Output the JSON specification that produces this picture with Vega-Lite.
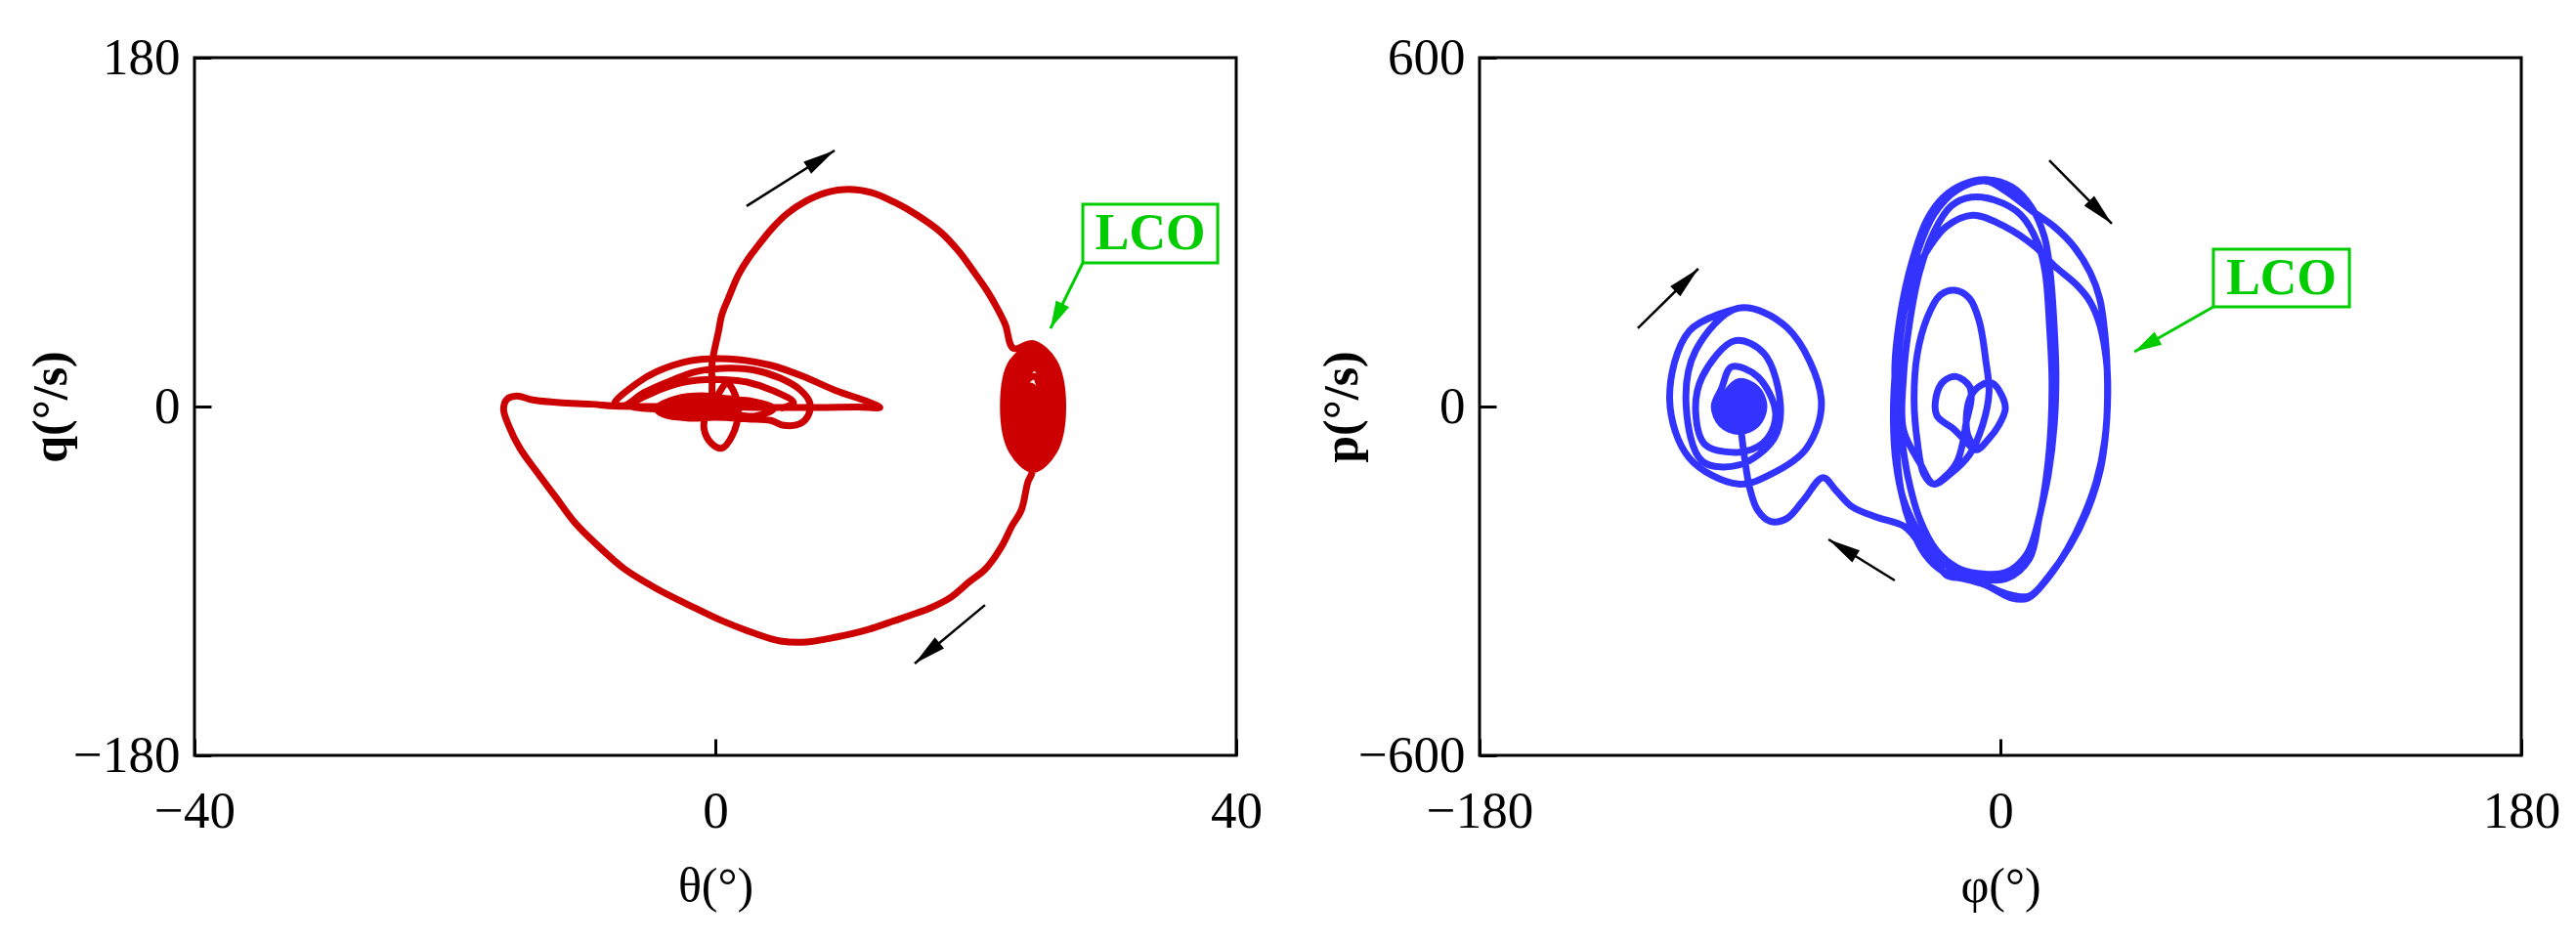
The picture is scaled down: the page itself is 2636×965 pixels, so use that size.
{
"$schema": "https://vega.github.io/schema/vega-lite/v6.json",
"background": "white",
"padding": {"left": 25, "top": 31, "right": 0, "bottom": 0},
"bounds": "flush",
"spacing": 249,
"config": {
  "view": {"stroke": "black", "strokeWidth": 3},
  "axis": {"grid": false, "domain": false, "ticks": true, "tickSize": -17, "tickWidth": 3, "tickColor": "black",
    "labelFont": "Liberation Serif", "labelFontSize": 53, "labelColor": "black",
    "titleFont": "Liberation Serif", "titleFontSize": 50, "titleColor": "black",
    "labelOverlap": false, "labelFlush": false}
},
"datasets": {
"red": [
{"i":1,"x":-0.6,"y":0.3},{"i":2,"x":-0.87,"y":-11.4},{"i":3,"x":-0.3,"y":-19},{"i":4,"x":0.5,"y":-21.5},{"i":5,"x":1.3,"y":-15},{"i":6,"x":1.75,"y":-3},{"i":7,"x":1.4,"y":8},{"i":8,"x":0.9,"y":12},{"i":9,"x":0.2,"y":6},{"i":10,"x":-0.2,"y":0},
{"i":11,"x":-0.25,"y":12},{"i":12,"x":-0.25,"y":22.2},{"i":13,"x":0.25,"y":39},{"i":14,"x":0.5,"y":47.4},{"i":15,"x":1.0,"y":55.8},{"i":16,"x":1.75,"y":67.6},{"i":17,"x":2.5,"y":76},{"i":18,"x":3.25,"y":82.7},{"i":19,"x":4.25,"y":91.1},{"i":20,"x":5.51,"y":99.5},
{"i":21,"x":7.01,"y":106.2},{"i":22,"x":8.51,"y":110.4},{"i":23,"x":10.26,"y":112.1},{"i":24,"x":12.01,"y":110.4},{"i":25,"x":13.76,"y":105.4},{"i":26,"x":15.51,"y":98.7},{"i":27,"x":17.3,"y":90},{"i":28,"x":18.7,"y":80},{"i":29,"x":19.8,"y":70},{"i":30,"x":20.76,"y":60.8},
{"i":31,"x":21.51,"y":52.4},{"i":32,"x":22.26,"y":42.4},{"i":33,"x":22.89,"y":30},
{"i":34,"x":24.4,"y":32.5},{"i":35,"x":26.01,"y":23},{"i":36,"x":26.68,"y":0},{"i":37,"x":26.01,"y":-23},{"i":38,"x":24.4,"y":-32.5},{"i":39,"x":22.79,"y":-23},{"i":40,"x":22.12,"y":0},{"i":41,"x":22.79,"y":23},
{"i":42,"x":24.4,"y":30},{"i":43,"x":25.78,"y":21.2},{"i":44,"x":26.35,"y":0},{"i":45,"x":25.78,"y":-21.2},{"i":46,"x":24.4,"y":-30},{"i":47,"x":23.02,"y":-21.2},{"i":48,"x":22.45,"y":0},{"i":49,"x":23.02,"y":21.2},
{"i":50,"x":24.4,"y":27.5},{"i":51,"x":25.57,"y":19.4},{"i":52,"x":26.05,"y":0},{"i":53,"x":25.57,"y":-19.4},{"i":54,"x":24.4,"y":-27.5},{"i":55,"x":23.23,"y":-19.4},{"i":56,"x":22.75,"y":0},{"i":57,"x":23.23,"y":19.4},
{"i":58,"x":24.45,"y":25},{"i":59,"x":25.4,"y":17.7},{"i":60,"x":25.8,"y":0},{"i":61,"x":25.4,"y":-17.7},{"i":62,"x":24.45,"y":-25},{"i":63,"x":23.5,"y":-17.7},{"i":64,"x":23.1,"y":0},{"i":65,"x":23.5,"y":17.7},
{"i":66,"x":24.5,"y":22},{"i":67,"x":25.24,"y":15.3},{"i":68,"x":25.55,"y":-1},{"i":69,"x":25.24,"y":-17.3},{"i":70,"x":24.5,"y":-24},{"i":71,"x":23.76,"y":-17.3},{"i":72,"x":23.45,"y":-1},{"i":73,"x":23.76,"y":15.3},
{"i":74,"x":24.55,"y":20},{"i":75,"x":25.12,"y":13.8},{"i":76,"x":25.35,"y":-1},{"i":77,"x":25.12,"y":-15.8},{"i":78,"x":24.55,"y":-22},{"i":79,"x":23.98,"y":-15.8},{"i":80,"x":23.75,"y":-1},{"i":81,"x":23.98,"y":13.8},
{"i":82,"x":24.55,"y":15.5},{"i":83,"x":24.9,"y":10.5},{"i":84,"x":25.05,"y":-1.5},{"i":85,"x":24.9,"y":-13.5},{"i":86,"x":24.55,"y":-18.5},{"i":87,"x":24.2,"y":-13.5},{"i":88,"x":24.05,"y":-1.5},{"i":89,"x":24.2,"y":10.5},
{"i":90,"x":24.55,"y":8.5},{"i":91,"x":24.7,"y":5.5},{"i":92,"x":24.75,"y":-1.5},{"i":93,"x":24.7,"y":-8.5},{"i":94,"x":24.55,"y":-11.5},{"i":95,"x":24.4,"y":-8.5},{"i":96,"x":24.35,"y":-1.5},{"i":97,"x":24.4,"y":5.5},{"i":98,"x":24.55,"y":8.5},{"i":99,"x":24.7,"y":0},{"i":100,"x":24.6,"y":-12},{"i":101,"x":24.55,"y":-22},
{"i":102,"x":24.3,"y":-34.5},{"i":103,"x":24.0,"y":-39},{"i":104,"x":23.5,"y":-53.4},{"i":105,"x":22.76,"y":-61.8},{"i":106,"x":22.01,"y":-71.9},{"i":107,"x":20.76,"y":-83.7},{"i":108,"x":19.51,"y":-90.4},{"i":109,"x":18.01,"y":-98.8},{"i":110,"x":16.5,"y":-104},{"i":111,"x":15.5,"y":-106.5},
{"i":112,"x":13.76,"y":-110.5},{"i":113,"x":11.76,"y":-115},{"i":114,"x":9.26,"y":-119},{"i":115,"x":7.0,"y":-121.5},{"i":116,"x":5.0,"y":-121},{"i":117,"x":3.0,"y":-117},{"i":118,"x":0.5,"y":-110.5},{"i":119,"x":-2.0,"y":-102.5},{"i":120,"x":-4.5,"y":-94},{"i":121,"x":-7.0,"y":-83.7},
{"i":122,"x":-9.0,"y":-71.9},{"i":123,"x":-10.75,"y":-60.2},{"i":124,"x":-12.26,"y":-46.7},{"i":125,"x":-13.76,"y":-33.3},{"i":126,"x":-15.01,"y":-21.5},{"i":127,"x":-15.88,"y":-9.7},{"i":128,"x":-16.26,"y":-1.3},{"i":129,"x":-16.01,"y":3.7},{"i":130,"x":-15.26,"y":5.4},{"i":131,"x":-14.01,"y":3.4},
{"i":132,"x":-12.0,"y":2.0},{"i":133,"x":-9.5,"y":1.2},{"i":134,"x":-7.75,"y":0.3},
{"i":135,"x":-4,"y":0},{"i":136,"x":0,"y":-0.3},{"i":137,"x":4,"y":-0.5},{"i":138,"x":8,"y":-0.5},{"i":139,"x":11,"y":-0.3},{"i":140,"x":12.64,"y":-0.5},
{"i":141,"x":11.5,"y":3.0},{"i":142,"x":9.26,"y":8.2},{"i":143,"x":6.76,"y":15.5},{"i":144,"x":4.25,"y":21.3},{"i":145,"x":1.75,"y":24.2},{"i":146,"x":0,"y":24.7},{"i":147,"x":-2,"y":23.5},{"i":148,"x":-4.5,"y":18},{"i":149,"x":-6,"y":12.1},{"i":150,"x":-7.75,"y":1.5},
{"i":151,"x":-7.0,"y":0.5},{"i":152,"x":-5.5,"y":7.1},{"i":153,"x":-3.25,"y":13.8},{"i":154,"x":-1.5,"y":18},{"i":155,"x":0.5,"y":19.7},{"i":156,"x":3.0,"y":18.8},{"i":157,"x":5.0,"y":14.6},{"i":158,"x":6.5,"y":8.7},{"i":159,"x":7.25,"y":2.0},{"i":160,"x":7.13,"y":-4.7},
{"i":161,"x":6.5,"y":-8.9},{"i":162,"x":5.25,"y":-9.7},{"i":163,"x":4.25,"y":-7.2},{"i":164,"x":2.5,"y":-6.4},
{"i":165,"x":0,"y":-5.5},{"i":166,"x":-2,"y":-6},{"i":167,"x":-4,"y":-4},{"i":168,"x":-4.5,"y":-1},{"i":169,"x":-3,"y":4},{"i":170,"x":-1,"y":5.5},{"i":171,"x":1,"y":4},{"i":172,"x":3,"y":2.5},{"i":173,"x":4.5,"y":-1},{"i":174,"x":3,"y":-5},
{"i":175,"x":0.5,"y":-3},{"i":176,"x":-2,"y":-3.5},{"i":177,"x":-3.8,"y":-1.5},{"i":178,"x":-2.5,"y":2},{"i":179,"x":0,"y":2},{"i":180,"x":2.5,"y":0},
{"i":181,"x":-6.5,"y":0.5},{"i":182,"x":-4.5,"y":8},{"i":183,"x":-2.5,"y":12.5},{"i":184,"x":0,"y":14},{"i":185,"x":2.5,"y":12.5},{"i":186,"x":4.5,"y":8},{"i":187,"x":6,"y":2},{"i":188,"x":5,"y":-1}
],
"blue": [
{"i":1,"x":-8.4,"y":-74.5},{"i":2,"x":-11.5,"y":-45},{"i":3,"x":-10.7,"y":12.3},{"i":4,"x":-7.3,"y":34.7},{"i":5,"x":-2.8,"y":40.3},{"i":6,"x":0.57,"y":17.9},{"i":7,"x":1.69,"y":-4.5},{"i":8,"x":-0.6,"y":-32.5},{"i":9,"x":-3.9,"y":-54.9},{"i":10,"x":-8.4,"y":-74.5},
{"i":11,"x":-12.9,"y":-54.9},{"i":12,"x":-16.3,"y":-38.1},{"i":13,"x":-21.95,"y":-15.7},{"i":14,"x":-22.17,"y":17.9},{"i":15,"x":-19.7,"y":43.1},{"i":16,"x":-15.2,"y":51.5},{"i":17,"x":-10.7,"y":34.7},{"i":18,"x":-10.1,"y":12.3},{"i":19,"x":-11.8,"y":-26.9},{"i":20,"x":-12.9,"y":-60},
{"i":21,"x":-15,"y":-95},{"i":22,"x":-19,"y":-120},{"i":23,"x":-23.07,"y":-133.3},
{"i":24,"x":-26.45,"y":-116.5},{"i":25,"x":-28.7,"y":-60.5},{"i":26,"x":-29.83,"y":12.3},{"i":27,"x":-28.7,"y":90.7},{"i":28,"x":-25.33,"y":152.4},{"i":29,"x":-20.82,"y":191.6},{"i":30,"x":-15.75,"y":200},{"i":31,"x":-10.69,"y":186},{"i":32,"x":-7.31,"y":146.8},{"i":33,"x":-5.06,"y":79.5},
{"i":34,"x":-3.94,"y":23.5},{"i":35,"x":-6.19,"y":-32.5},{"i":36,"x":-10.69,"y":-82.9},{"i":37,"x":-17.44,"y":-116.5},{"i":38,"x":-23.07,"y":-133.3},{"i":39,"x":-27.5,"y":-100},
{"i":40,"x":-33.5,"y":-40},{"i":41,"x":-33.5,"y":50},{"i":42,"x":-31.5,"y":140},{"i":43,"x":-28,"y":230},{"i":44,"x":-23,"y":300},{"i":45,"x":-17,"y":345},{"i":46,"x":-10,"y":360},{"i":47,"x":-2,"y":355},{"i":48,"x":7,"y":330},{"i":49,"x":13,"y":280},
{"i":50,"x":15.5,"y":230},{"i":51,"x":17,"y":136},{"i":52,"x":17.8,"y":52},{"i":53,"x":17.5,"y":-32},{"i":54,"x":16,"y":-116},{"i":55,"x":13.5,"y":-189},{"i":56,"x":9,"y":-255},{"i":57,"x":2,"y":-285},{"i":58,"x":-8,"y":-287},{"i":59,"x":-15,"y":-277},
{"i":60,"x":-22,"y":-248},{"i":61,"x":-28,"y":-192},{"i":62,"x":-32,"y":-120},{"i":63,"x":-34.5,"y":-40},
{"i":64,"x":-36.5,"y":60},{"i":65,"x":-34.5,"y":160},{"i":66,"x":-30.5,"y":250},{"i":67,"x":-25.5,"y":320},{"i":68,"x":-19.7,"y":360},{"i":69,"x":-12.94,"y":382},{"i":70,"x":-5.06,"y":390.5},{"i":71,"x":3.94,"y":377.6},{"i":72,"x":10.7,"y":343},{"i":73,"x":15.2,"y":292},
{"i":74,"x":17.2,"y":231},{"i":75,"x":18.6,"y":136},{"i":76,"x":19.2,"y":52},{"i":77,"x":18.6,"y":-32},{"i":78,"x":16.6,"y":-116},{"i":79,"x":13.5,"y":-189},{"i":80,"x":10,"y":-262},{"i":81,"x":2,"y":-296},{"i":82,"x":-9,"y":-294},{"i":83,"x":-17,"y":-278},
{"i":84,"x":-23.5,"y":-252},{"i":85,"x":-29,"y":-210},{"i":86,"x":-33.5,"y":-160},{"i":87,"x":-36,"y":-100},{"i":88,"x":-37,"y":-20},
{"i":89,"x":-36,"y":80},{"i":90,"x":-33.5,"y":170},{"i":91,"x":-29,"y":260},{"i":92,"x":-23,"y":330},{"i":93,"x":-15,"y":372},{"i":94,"x":-5,"y":388},{"i":95,"x":1.69,"y":371},{"i":96,"x":10.7,"y":337.3},{"i":97,"x":18.6,"y":309.2},{"i":98,"x":25.3,"y":275.6},
{"i":99,"x":31,"y":230.8},{"i":100,"x":34.3,"y":186},{"i":101,"x":36.2,"y":120},{"i":102,"x":37,"y":40},{"i":103,"x":36.5,"y":-40},{"i":104,"x":34.5,"y":-110},{"i":105,"x":30,"y":-180},{"i":106,"x":24,"y":-240},{"i":107,"x":17,"y":-290},{"i":108,"x":10,"y":-326},
{"i":109,"x":2,"y":-322},{"i":110,"x":-6,"y":-305},{"i":111,"x":-14,"y":-293},{"i":112,"x":-20,"y":-283},{"i":113,"x":-26,"y":-255},{"i":114,"x":-31,"y":-205},{"i":115,"x":-34.5,"y":-140},{"i":116,"x":-36,"y":-60},{"i":117,"x":-36,"y":20},
{"i":118,"x":-35,"y":100},{"i":119,"x":-32.5,"y":180},{"i":120,"x":-28.5,"y":240},{"i":121,"x":-23,"y":285},{"i":122,"x":-18.6,"y":310},{"i":123,"x":-9.56,"y":328.9},{"i":124,"x":1.69,"y":309.2},{"i":125,"x":11.8,"y":275.6},{"i":126,"x":18.6,"y":242},{"i":127,"x":26.5,"y":208.4},
{"i":128,"x":31,"y":180.4},{"i":129,"x":34.3,"y":141.2},{"i":130,"x":36.6,"y":79.6},{"i":131,"x":37.1,"y":23.5},{"i":132,"x":36,"y":-60.5},{"i":133,"x":33.2,"y":-127.7},{"i":134,"x":28.7,"y":-189.4},{"i":135,"x":23.1,"y":-245.4},{"i":136,"x":16.3,"y":-295.8},{"i":137,"x":9.57,"y":-329.4},
{"i":138,"x":3.94,"y":-329.4},{"i":139,"x":-5.06,"y":-307},{"i":140,"x":-12.94,"y":-295.8},{"i":141,"x":-18.57,"y":-290.2},{"i":142,"x":-23,"y":-262},
{"i":143,"x":-26.5,"y":-245.4},{"i":144,"x":-30,"y":-222},{"i":145,"x":-33.2,"y":-206.2},{"i":146,"x":-43.3,"y":-189.4},{"i":147,"x":-51.2,"y":-172.6},{"i":148,"x":-56.8,"y":-144.5},{"i":149,"x":-61.3,"y":-122.1},{"i":150,"x":-68.1,"y":-161.4},{"i":151,"x":-73.7,"y":-192.2},{"i":152,"x":-79.4,"y":-197.8},
{"i":153,"x":-83.9,"y":-178.2},{"i":154,"x":-86.7,"y":-138.9},{"i":155,"x":-88.4,"y":-88.5},{"i":156,"x":-89.5,"y":-45},{"i":157,"x":-90.3,"y":0},
{"i":158,"x":-90.3,"y":3},{"i":159,"x":-89.9,"y":2.1},{"i":160,"x":-89.7,"y":0},{"i":161,"x":-89.9,"y":-2.1},{"i":162,"x":-90.3,"y":-3},{"i":163,"x":-90.7,"y":-2.1},{"i":164,"x":-90.9,"y":0},{"i":165,"x":-90.7,"y":2.1},
{"i":166,"x":-90.3,"y":10.5},{"i":167,"x":-88.8,"y":7.4},{"i":168,"x":-88.2,"y":0},{"i":169,"x":-88.8,"y":-7.4},{"i":170,"x":-90.3,"y":-10.5},{"i":171,"x":-91.8,"y":-7.4},{"i":172,"x":-92.4,"y":0},{"i":173,"x":-91.8,"y":7.4},
{"i":174,"x":-90.3,"y":21},{"i":175,"x":-87.3,"y":14.8},{"i":176,"x":-86.1,"y":0},{"i":177,"x":-87.3,"y":-14.8},{"i":178,"x":-90.3,"y":-21},{"i":179,"x":-93.3,"y":-14.8},{"i":180,"x":-94.5,"y":0},{"i":181,"x":-93.3,"y":14.8},
{"i":182,"x":-90.3,"y":32},{"i":183,"x":-85.8,"y":22.6},{"i":184,"x":-83.9,"y":0},{"i":185,"x":-85.8,"y":-22.6},{"i":186,"x":-90.3,"y":-32},{"i":187,"x":-94.8,"y":-22.6},{"i":188,"x":-96.7,"y":0},{"i":189,"x":-94.8,"y":22.6},
{"i":190,"x":-90.3,"y":43},{"i":191,"x":-84.2,"y":30.4},{"i":192,"x":-81.7,"y":0},{"i":193,"x":-84.2,"y":-30.4},{"i":194,"x":-90.3,"y":-43},{"i":195,"x":-96.4,"y":-30.4},{"i":196,"x":-98.9,"y":0},{"i":197,"x":-96.4,"y":30.4},
{"i":198,"x":-92.9,"y":68.3},{"i":199,"x":-83.9,"y":51.5},{"i":200,"x":-77.7,"y":-10.1},{"i":201,"x":-80.5,"y":-54.9},{"i":202,"x":-88.4,"y":-77.3},{"i":203,"x":-101.9,"y":-66.1},{"i":204,"x":-105.3,"y":-10.1},{"i":205,"x":-103,"y":51.5},
{"i":206,"x":-91.7,"y":113.2},{"i":207,"x":-81.6,"y":90.7},{"i":208,"x":-76,"y":1.1},{"i":209,"x":-78.2,"y":-54.9},{"i":210,"x":-90,"y":-100},{"i":211,"x":-103,"y":-94},{"i":212,"x":-108.6,"y":1.1},{"i":213,"x":-105.3,"y":96.3},
{"i":214,"x":-90.6,"y":169.2},{"i":215,"x":-73.7,"y":135.6},{"i":216,"x":-61.9,"y":12.3},{"i":217,"x":-67,"y":-71.7},{"i":218,"x":-79.4,"y":-116.5},{"i":219,"x":-90.6,"y":-133.3},{"i":220,"x":-107.5,"y":-88.5},{"i":221,"x":-114.3,"y":12.3},{"i":222,"x":-107.5,"y":130},{"i":223,"x":-90.6,"y":169.2}
]
},
"hconcat": [
{
  "width": 1066, "height": 714,
  "layer": [
    {"data": {"name": "red"},
     "mark": {"type": "line", "interpolate": "catmull-rom", "color": "#cc0000", "strokeWidth": 7},
     "encoding": {
       "x": {"field": "x", "type": "quantitative", "scale": {"domain": [-40, 40], "nice": false, "zero": false},
             "axis": {"values": [-40, 0, 40], "title": "θ(°)", "labelPadding": 48, "titleY": 149, "titleBaseline": "alphabetic", "titleFontWeight": "normal"}},
       "y": {"field": "y", "type": "quantitative", "scale": {"domain": [-180, 180], "nice": false, "zero": false},
             "axis": {"values": [-180, 0, 180], "title": "q(°/s)", "labelPadding": 32, "titleX": -132, "titleBaseline": "alphabetic", "titleFontWeight": "bold"}},
       "order": {"field": "i", "type": "quantitative"}
     }},
    {"data": {"values": [{"x": 2.40, "y": 103.4, "x2": 9.16, "y2": 132.1}, {"x": 20.71, "y": -102.4, "x2": 15.31, "y2": -132.6}]},
     "mark": {"type": "rule", "color": "black", "strokeWidth": 2.5},
     "encoding": {"x": {"field": "x", "type": "quantitative"}, "y": {"field": "y", "type": "quantitative"}, "x2": {"field": "x2"}, "y2": {"field": "y2"}}},
    {"data": {"values": [{"x": 9.16, "y": 132.1}]},
     "mark": {"type": "point", "shape": "M0,0L0.22,1L-0.22,1Z", "size": 4356, "angle": 57.7, "filled": true, "color": "black", "opacity": 1, "strokeWidth": 0},
     "encoding": {"x": {"field": "x", "type": "quantitative"}, "y": {"field": "y", "type": "quantitative"}}},
    {"data": {"values": [{"x": 15.31, "y": -132.6}]},
     "mark": {"type": "point", "shape": "M0,0L0.22,1L-0.22,1Z", "size": 4356, "angle": 230.2, "filled": true, "color": "black", "opacity": 1, "strokeWidth": 0},
     "encoding": {"x": {"field": "x", "type": "quantitative"}, "y": {"field": "y", "type": "quantitative"}}},
    {"data": {"values": [{"x": 28.22, "y": 74.1, "x2": 25.74, "y2": 40.3}]},
     "mark": {"type": "rule", "color": "#00cc00", "strokeWidth": 3},
     "encoding": {"x": {"field": "x", "type": "quantitative"}, "y": {"field": "y", "type": "quantitative"}, "x2": {"field": "x2"}, "y2": {"field": "y2"}}},
    {"data": {"values": [{"x": 25.74, "y": 40.3}]},
     "mark": {"type": "point", "shape": "M0,0L0.27,1L-0.27,1Z", "size": 3136, "angle": 206.2, "filled": true, "color": "#00cc00", "opacity": 1, "strokeWidth": 0},
     "encoding": {"x": {"field": "x", "type": "quantitative"}, "y": {"field": "y", "type": "quantitative"}}},
    {"data": {"values": [{"x": 28.22, "x2": 38.58, "y": 74.1, "y2": 104.4}]},
     "mark": {"type": "rect", "fill": "white", "stroke": "#00cc00", "strokeWidth": 3},
     "encoding": {"x": {"field": "x", "type": "quantitative"}, "y": {"field": "y", "type": "quantitative"}, "x2": {"field": "x2"}, "y2": {"field": "y2"}}},
    {"data": {"values": [{"x": 33.4, "y": 89.2, "label": "LCO"}]},
     "mark": {"type": "text", "font": "Liberation Serif", "fontSize": 52, "fontWeight": "bold", "color": "#00cc00", "align": "center", "baseline": "middle"},
     "encoding": {"x": {"field": "x", "type": "quantitative"}, "y": {"field": "y", "type": "quantitative"}, "text": {"field": "label"}}}
  ]
},
{
  "width": 1066, "height": 714,
  "layer": [
    {"data": {"name": "blue"},
     "mark": {"type": "line", "interpolate": "catmull-rom", "color": "#3333ff", "strokeWidth": 7},
     "encoding": {
       "x": {"field": "x", "type": "quantitative", "scale": {"domain": [-180, 180], "nice": false, "zero": false},
             "axis": {"values": [-180, 0, 180], "title": "φ(°)", "labelPadding": 48, "titleY": 149, "titleBaseline": "alphabetic", "titleFontWeight": "normal"}},
       "y": {"field": "y", "type": "quantitative", "scale": {"domain": [-600, 600], "nice": false, "zero": false},
             "axis": {"values": [-600, 0, 600], "title": "p(°/s)", "labelPadding": 32, "titleX": -126, "titleBaseline": "alphabetic", "titleFontWeight": "bold"}},
       "order": {"field": "i", "type": "quantitative"}
     }},
    {"data": {"values": [{"x": -125.3, "y": 134.5, "x2": -104.4, "y2": 237.0}, {"x": -36.5, "y": -299.2, "x2": -59.4, "y2": -228.6}, {"x": 16.9, "y": 423.5, "x2": 38.5, "y2": 314.3}]},
     "mark": {"type": "rule", "color": "black", "strokeWidth": 2.5},
     "encoding": {"x": {"field": "x", "type": "quantitative"}, "y": {"field": "y", "type": "quantitative"}, "x2": {"field": "x2"}, "y2": {"field": "y2"}}},
    {"data": {"values": [{"x": -104.4, "y": 237.0}]},
     "mark": {"type": "point", "shape": "M0,0L0.22,1L-0.22,1Z", "size": 4356, "angle": 45.5, "filled": true, "color": "black", "opacity": 1, "strokeWidth": 0},
     "encoding": {"x": {"field": "x", "type": "quantitative"}, "y": {"field": "y", "type": "quantitative"}}},
    {"data": {"values": [{"x": -59.4, "y": -228.6}]},
     "mark": {"type": "point", "shape": "M0,0L0.22,1L-0.22,1Z", "size": 4356, "angle": 301.7, "filled": true, "color": "black", "opacity": 1, "strokeWidth": 0},
     "encoding": {"x": {"field": "x", "type": "quantitative"}, "y": {"field": "y", "type": "quantitative"}}},
    {"data": {"values": [{"x": 38.5, "y": 314.3}]},
     "mark": {"type": "point", "shape": "M0,0L0.22,1L-0.22,1Z", "size": 4356, "angle": 135.4, "filled": true, "color": "black", "opacity": 1, "strokeWidth": 0},
     "encoding": {"x": {"field": "x", "type": "quantitative"}, "y": {"field": "y", "type": "quantitative"}}},
    {"data": {"values": [{"x": 73.6, "y": 171.4, "x2": 46.3, "y2": 94.1}]},
     "mark": {"type": "rule", "color": "#00cc00", "strokeWidth": 3},
     "encoding": {"x": {"field": "x", "type": "quantitative"}, "y": {"field": "y", "type": "quantitative"}, "x2": {"field": "x2"}, "y2": {"field": "y2"}}},
    {"data": {"values": [{"x": 46.3, "y": 94.1}]},
     "mark": {"type": "point", "shape": "M0,0L0.27,1L-0.27,1Z", "size": 3136, "angle": 240.4, "filled": true, "color": "#00cc00", "opacity": 1, "strokeWidth": 0},
     "encoding": {"x": {"field": "x", "type": "quantitative"}, "y": {"field": "y", "type": "quantitative"}}},
    {"data": {"values": [{"x": 73.6, "x2": 120.6, "y": 171.4, "y2": 270.6}]},
     "mark": {"type": "rect", "fill": "white", "stroke": "#00cc00", "strokeWidth": 3},
     "encoding": {"x": {"field": "x", "type": "quantitative"}, "y": {"field": "y", "type": "quantitative"}, "x2": {"field": "x2"}, "y2": {"field": "y2"}}},
    {"data": {"values": [{"x": 97.1, "y": 221, "label": "LCO"}]},
     "mark": {"type": "text", "font": "Liberation Serif", "fontSize": 52, "fontWeight": "bold", "color": "#00cc00", "align": "center", "baseline": "middle"},
     "encoding": {"x": {"field": "x", "type": "quantitative"}, "y": {"field": "y", "type": "quantitative"}, "text": {"field": "label"}}}
  ]
}
]
}
